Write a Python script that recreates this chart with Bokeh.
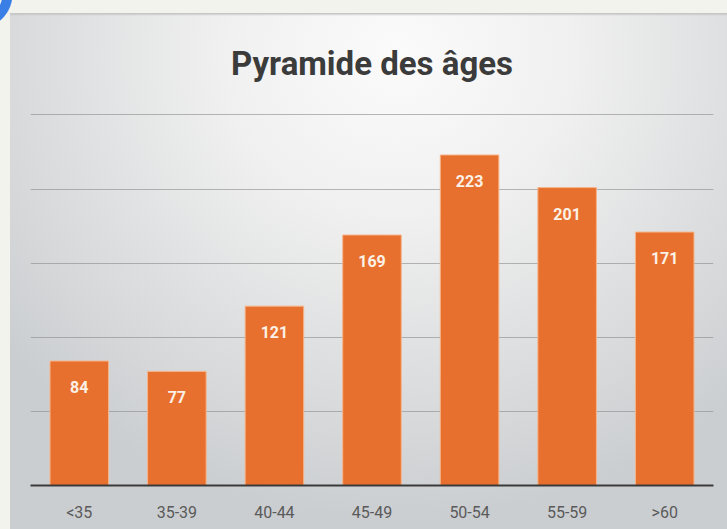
from bokeh.plotting import figure
from bokeh.models import ColumnDataSource, FactorRange, Range1d, GlobalInlineStyleSheet, LabelSet, SingleIntervalTicker
from bokeh.core.properties import value
from bokeh.embed import file_html
from bokeh.resources import INLINE

categories = ["<35", "35-39", "40-44", "45-49", "50-54", "55-59", ">60"]
counts = [84, 77, 121, 169, 223, 201, 171]
labels = [str(c) for c in counts]

title_text = "Pyramide des âges"

page_css = GlobalInlineStyleSheet(css="""
html, body {
  margin: 0;
  padding: 0;
  overflow: hidden;
  background:
    radial-gradient(circle at -22px -6px, rgba(0,0,0,0) 0px, rgba(0,0,0,0) 24px, #3a7fe6 25px, #3a7fe6 34px, rgba(0,0,0,0) 35px) 0px 0px / 20px 28px no-repeat,
    linear-gradient(#bdbdbd, rgba(0,0,0,0)) 10px 13px / 717px 3px no-repeat,
    radial-gradient(ellipse 70% 90% at 54% 8%, #fbfbfb 0%, #f0f0f0 35%, #dfe0e1 65%, #cbced1 100%) 10px 14px / 717px 515px no-repeat,
    #f3f3ee;
}
""")

src = ColumnDataSource(dict(cat=categories, val=counts, lab=labels))

p = figure(
    x_range=FactorRange(*categories, range_padding=0),
    y_range=Range1d(0, 251),
    width=727, height=529,
    output_backend="svg", toolbar_location=None,
    min_border_left=30, min_border_right=14, min_border_bottom=44, min_border_top=113,
    stylesheets=[page_css],
)
p.background_fill_alpha = 0
p.border_fill_alpha = 0
p.outline_line_color = None

p.title.text = title_text
p.title.align = "center"
p.title.text_font = "Roboto"
p.title.text_font_style = "bold"
p.title.text_font_size = "33px"
p.title.text_color = "#3b3b3b"
p.title.standoff = 62

p.vbar(x="cat", top="val", width=0.6, source=src,
       fill_color="#e8702e", line_color="#f6b488", line_width=1)

lbl = LabelSet(x="cat", y="val", text="lab", source=src, y_offset=-26,
               text_align="center", text_baseline="middle",
               text_font=value("Roboto"), text_font_style="bold",
               text_font_size="16px", text_color="#fbf1e6")
p.add_layout(lbl)

p.yaxis.visible = False
p.ygrid.ticker = SingleIntervalTicker(interval=50)
p.ygrid.grid_line_color = "#8a8a8a"
p.ygrid.grid_line_alpha = 0.6
p.ygrid.grid_line_width = 1
p.xgrid.grid_line_color = None

p.xaxis.axis_line_color = "#3a3a3a"
p.xaxis.axis_line_width = 2
p.xaxis.major_tick_line_color = None
p.xaxis.minor_tick_line_color = None
p.xaxis.major_label_text_font = "Roboto"
p.xaxis.major_label_text_font_size = "16px"
p.xaxis.major_label_text_color = "#5a5a5a"
p.xaxis.major_label_standoff = 11

open("out.html", "w").write(file_html(p, INLINE))
